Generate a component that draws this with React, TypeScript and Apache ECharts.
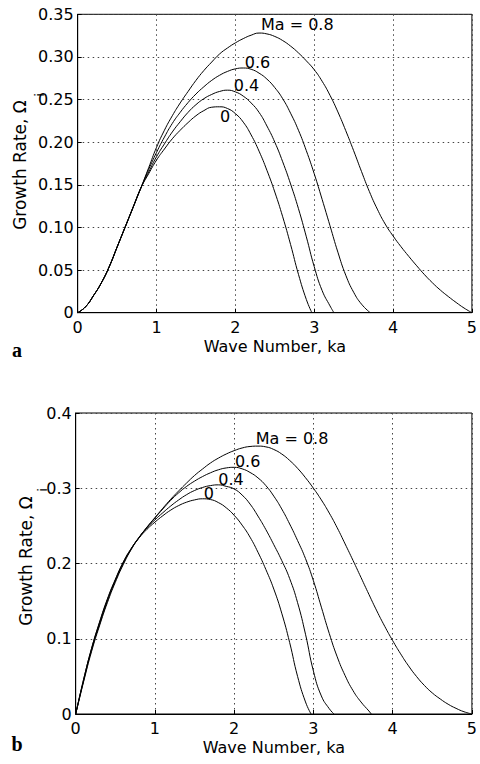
import React, { useEffect, useRef } from "react";
import * as echarts from "echarts";

// Shared wave-number grid (ka)
const WAVE_NUMBER = [
  0, 0.1, 0.2, 0.3, 0.4, 0.5, 0.6, 0.7, 0.8, 0.9,
  1.0, 1.1, 1.2, 1.3, 1.4, 1.5, 1.6, 1.7, 1.8, 1.9,
  2.0, 2.1, 2.2, 2.3, 2.4, 2.5, 2.6, 2.7, 2.8, 2.9,
  3.0, 3.1, 3.2, 3.3, 3.4, 3.5, 3.6, 3.7, 3.8, 3.9,
  4.0, 4.1, 4.2, 4.3, 4.4, 4.5, 4.6, 4.7, 4.8, 4.9, 5.0,
];

// Panel a: growth rate values on the grid, then the cut-off wave number
const OMEGA_A_MA0 = [
  0, 0.007, 0.02, 0.035, 0.054, 0.077, 0.1, 0.123, 0.146, 0.163,
  0.179, 0.192, 0.204, 0.214, 0.223, 0.231, 0.237, 0.241, 0.2415, 0.2395,
  0.2335, 0.2235, 0.2085, 0.1895, 0.167, 0.1415, 0.1125, 0.08, 0.045, 0.0155,
];
const CUTOFF_A_MA0 = 2.97;
const OMEGA_A_MA04 = [
  0, 0.007, 0.02, 0.035, 0.054, 0.077, 0.1, 0.123, 0.146, 0.165,
  0.183, 0.198, 0.212, 0.224, 0.235, 0.244, 0.251, 0.256, 0.2595, 0.261,
  0.259, 0.254, 0.246, 0.235, 0.219, 0.2, 0.177, 0.151, 0.122, 0.089,
  0.054, 0.026, 0.008,
];
const CUTOFF_A_MA04 = 3.25;
const OMEGA_A_MA06 = [
  0, 0.007, 0.02, 0.035, 0.054, 0.077, 0.1, 0.123, 0.146, 0.168,
  0.188, 0.206, 0.222, 0.235, 0.2465, 0.2565, 0.265, 0.2725, 0.2785, 0.283,
  0.286, 0.287, 0.2855, 0.281, 0.274, 0.264, 0.251, 0.234, 0.214, 0.19,
  0.163, 0.133, 0.102, 0.071, 0.044, 0.024, 0.01,
];
const CUTOFF_A_MA06 = 3.71;
const OMEGA_A_MA08 = [
  0, 0.007, 0.02, 0.035, 0.054, 0.077, 0.1, 0.123, 0.146, 0.17,
  0.194, 0.214, 0.231, 0.246, 0.2595, 0.2725, 0.284, 0.294, 0.3035, 0.3105,
  0.3165, 0.3215, 0.3255, 0.328, 0.327, 0.324, 0.3192, 0.3127, 0.3047, 0.2954,
  0.285, 0.2715, 0.255, 0.2355, 0.2135, 0.19, 0.1655, 0.142, 0.1215, 0.104,
  0.09, 0.0775, 0.066, 0.055, 0.0445, 0.035, 0.0265, 0.019, 0.012, 0.0055, 0,
];
const CUTOFF_A_MA08: number | null = null;

// Panel b
const OMEGA_B_MA0 = [
  0, 0.046, 0.087, 0.122, 0.153, 0.179, 0.202, 0.22, 0.234, 0.2455,
  0.255, 0.2635, 0.271, 0.277, 0.2815, 0.2845, 0.286, 0.285, 0.281, 0.274,
  0.264, 0.251, 0.235, 0.215, 0.192, 0.166, 0.134, 0.095, 0.05, 0.016,
];
const CUTOFF_B_MA0 = 2.97;
const OMEGA_B_MA04 = [
  0, 0.046, 0.087, 0.121, 0.152, 0.178, 0.201, 0.2195, 0.235, 0.2475,
  0.258, 0.2675, 0.2765, 0.2845, 0.2915, 0.297, 0.301, 0.3035, 0.3045, 0.3025,
  0.299, 0.291, 0.279, 0.263, 0.245, 0.225, 0.204, 0.18, 0.148, 0.106,
  0.057, 0.024, 0.007,
];
const CUTOFF_B_MA04 = 3.26;
const OMEGA_B_MA06 = [
  0, 0.044, 0.085, 0.119, 0.15, 0.177, 0.2, 0.219, 0.2345, 0.248,
  0.2605, 0.2725, 0.284, 0.294, 0.3025, 0.3095, 0.3155, 0.3205, 0.3245, 0.327,
  0.3278, 0.3258, 0.321, 0.3138, 0.3035, 0.2895, 0.2725, 0.2525, 0.2305, 0.2065,
  0.177, 0.142, 0.107, 0.076, 0.051, 0.031, 0.016, 0.004,
];
const CUTOFF_B_MA06 = 3.73;
const OMEGA_B_MA08 = [
  0, 0.043, 0.083, 0.117, 0.148, 0.175, 0.1985, 0.2185, 0.2345, 0.2485,
  0.261, 0.2735, 0.2855, 0.2965, 0.307, 0.317, 0.3255, 0.3335, 0.34, 0.3455,
  0.35, 0.3535, 0.3555, 0.356, 0.355, 0.3515, 0.3455, 0.337, 0.3265, 0.314,
  0.3, 0.2845, 0.267, 0.2475, 0.226, 0.204, 0.1815, 0.159, 0.137, 0.1165,
  0.0975, 0.08, 0.064, 0.05, 0.038, 0.028, 0.02, 0.013, 0.0075, 0.003, 0,
];
const CUTOFF_B_MA08: number | null = null;

// Curve annotations (text, ka, growth rate)
const LABEL_TEXTS = ["Ma = 0.8", "0.6", "0.4", "0"];
const LABEL_K_A = [2.785, 2.28, 2.14, 1.87];
const LABEL_OMEGA_A = [0.3375, 0.293, 0.267, 0.23];
const LABEL_K_B = [2.73, 2.17, 1.96, 1.68];
const LABEL_OMEGA_B = [0.3655, 0.336, 0.312, 0.293];

// Axis ticks
const X_TICKS = [0, 1, 2, 3, 4, 5];
const Y_TICKS_A = ["0", "0.05", "0.10", "0.15", "0.20", "0.25", "0.30", "0.35"];
const Y_TICKS_B = ["0", "0.1", "0.2", "0.3", "0.4"];

const FONT = "DejaVu Sans";

function buildCurve(omega: number[], cutoff: number | null) {
  const pts: number[][] = omega.map((w, i) => [WAVE_NUMBER[i], w]);
  if (cutoff !== null) pts.push([cutoff, 0]);
  return pts;
}

function lineSeries(data: number[][], idx: number) {
  return {
    type: "line",
    xAxisIndex: idx,
    yAxisIndex: idx,
    data,
    symbol: "none",
    showSymbol: false,
    smooth: 0.5,
    silent: true,
    lineStyle: { color: "#000", width: 1 },
  };
}

function labelSeries(ks: number[], ws: number[], idx: number) {
  return {
    type: "scatter",
    xAxisIndex: idx,
    yAxisIndex: idx,
    symbolSize: 0,
    silent: true,
    itemStyle: { opacity: 1, color: "#000" },
    data: LABEL_TEXTS.map((t, i) => ({ name: t, value: [ks[i], ws[i]] })),
    label: {
      show: true,
      position: "inside",
      formatter: "{b}",
      color: "#000",
      opacity: 1,
      textBorderWidth: 0,
      textBorderColor: "transparent",
      fontFamily: FONT,
      fontSize: 16,
    },
  };
}

function xAxisFor(idx: number, nameGap: number, margin: number) {
  return {
    type: "value",
    gridIndex: idx,
    min: X_TICKS[0],
    max: X_TICKS[X_TICKS.length - 1],
    interval: 1,
    axisLine: { show: true, lineStyle: { color: "#000", width: 1 } },
    axisTick: { show: true, inside: true, length: 4, lineStyle: { color: "#000" } },
    axisLabel: { color: "#000", fontFamily: FONT, fontSize: 16, margin },
    splitLine: { show: true, lineStyle: { color: "#444", width: 1, type: [1.5, 3.5] } },
    name: "Wave Number, ka",
    nameLocation: "middle",
    nameGap,
    nameTextStyle: { color: "#000", fontFamily: FONT, fontSize: 16 },
  };
}

function yAxisFor(idx: number, max: number, interval: number, ticks: string[]) {
  return {
    type: "value",
    gridIndex: idx,
    min: 0,
    max,
    interval,
    axisLine: { show: true, lineStyle: { color: "#000", width: 1 } },
    axisTick: { show: true, inside: true, length: 4, lineStyle: { color: "#000" } },
    axisLabel: {
      color: "#000",
      fontFamily: FONT,
      fontSize: 16,
      margin: 4,
      formatter: (v: number) => ticks[Math.round(v / interval)] ?? "",
    },
    splitLine: { show: true, lineStyle: { color: "#444", width: 1, type: [1.5, 3.5] } },
  };
}

function yTitle(cx: number, cy: number, subX: number, subY: number) {
  return [
    {
      type: "text",
      x: cx,
      y: cy,
      rotation: Math.PI / 2,
      silent: true,
      style: {
        text: "Growth Rate, \u03A9",
        fill: "#000",
        fontFamily: FONT,
        fontSize: 17,
        textAlign: "center",
        textVerticalAlign: "middle",
        align: "center",
        verticalAlign: "middle",
      },
    },
    {
      type: "text",
      x: subX,
      y: subY,
      rotation: Math.PI / 2,
      silent: true,
      style: {
        text: "i",
        fill: "#000",
        fontFamily: FONT,
        fontSize: 13,
        textAlign: "center",
        textVerticalAlign: "middle",
        align: "center",
        verticalAlign: "middle",
      },
    },
  ];
}

function panelLetter(t: string, x: number, y: number) {
  return {
    type: "text",
    x,
    y,
    silent: true,
    style: {
      text: t,
      fill: "#000",
      fontFamily: "Liberation Serif",
      fontWeight: "bold",
      fontSize: 20,
      textAlign: "center",
      textVerticalAlign: "middle",
      align: "center",
      verticalAlign: "middle",
    },
  };
}

export default function App() {
  const ref = useRef<HTMLDivElement>(null);
  useEffect(() => {
    if (!ref.current) return;
    const chart = echarts.init(ref.current, null, { renderer: "svg" });
    const option = {
      animation: false,
      backgroundColor: "#fff",
      grid: [
        { left: 77.7, top: 14.3, width: 397.3, height: 298.4, show: true, borderColor: "#000", borderWidth: 1, containLabel: false },
        { left: 75.7, top: 413, width: 399.8, height: 301, show: true, borderColor: "#000", borderWidth: 1, containLabel: false },
      ],
      xAxis: [xAxisFor(0, 26, 7), xAxisFor(1, 25, 6)],
      yAxis: [
        yAxisFor(0, 0.35, 0.05, Y_TICKS_A),
        yAxisFor(1, 0.4, 0.1, Y_TICKS_B),
      ],
      series: [
        lineSeries(buildCurve(OMEGA_A_MA0, CUTOFF_A_MA0), 0),
        lineSeries(buildCurve(OMEGA_A_MA04, CUTOFF_A_MA04), 0),
        lineSeries(buildCurve(OMEGA_A_MA06, CUTOFF_A_MA06), 0),
        lineSeries(buildCurve(OMEGA_A_MA08, CUTOFF_A_MA08), 0),
        labelSeries(LABEL_K_A, LABEL_OMEGA_A, 0),
        lineSeries(buildCurve(OMEGA_B_MA0, CUTOFF_B_MA0), 1),
        lineSeries(buildCurve(OMEGA_B_MA04, CUTOFF_B_MA04), 1),
        lineSeries(buildCurve(OMEGA_B_MA06, CUTOFF_B_MA06), 1),
        lineSeries(buildCurve(OMEGA_B_MA08, CUTOFF_B_MA08), 1),
        labelSeries(LABEL_K_B, LABEL_OMEGA_B, 1),
      ],
      graphic: [
        ...yTitle(20, 165, 39, 95),
        ...yTitle(26, 561, 42, 490),
        panelLetter("a", 17, 350),
        panelLetter("b", 17, 744),
      ],
    };
    chart.setOption(option as any);
    return () => chart.dispose();
  }, []);
  return (
    <div
      ref={ref}
      style={{ position: "absolute", left: 0, top: 0, width: 480, height: 764, background: "#fff" }}
    />
  );
}
